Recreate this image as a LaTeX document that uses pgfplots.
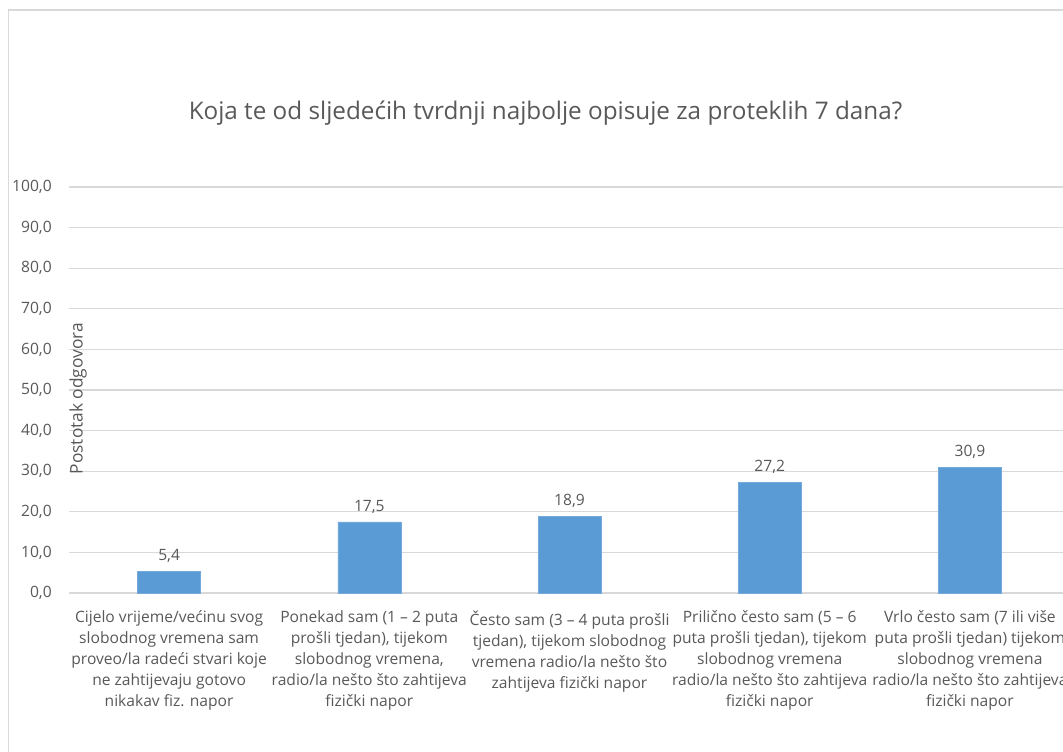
\documentclass[border=0pt]{standalone}
\usepackage{fontspec}
\setmainfont{Open Sans}
\usepackage{pgfplots}
\pgfplotsset{compat=1.18}
\hyphenpenalty=10000
\exhyphenpenalty=10000
\definecolor{barblue}{HTML}{5B9BD5}
\definecolor{gridgray}{HTML}{D9D9D9}
\definecolor{txtgray}{HTML}{595959}
\begin{document}
\begin{tikzpicture}
\useasboundingbox (0,0) rectangle (797.25pt,563.25pt);
\clip (0,0) rectangle (797.25pt,563.25pt);
\fill[white] (0,0) rectangle (797.25pt,563.25pt);
\draw[gridgray, line width=0.9pt] (6.4pt,-10pt) -- (6.4pt,555.75pt) -- (820pt,555.75pt);
\node[txtgray, font=\fontsize{18.2pt}{22pt}\selectfont] at (409.1pt,478.5pt) {Koja te od sljedećih tvrdnji najbolje opisuje za proteklih 7 dana?};
\begin{axis}[
  at={(51.75pt,118.5pt)}, anchor=south west,
  scale only axis, width=750.75pt, height=304.5pt,
  xmin=-0.5, xmax=4.5, ymin=0, ymax=100,
  ytick={0,10,...,100},
  xtick={0,1,2,3,4},
  xticklabels={
    {Cijelo vrijeme/većinu svog\\slobodnog vremena sam\\proveo/la radeći stvari koje\\ne zahtijevaju gotovo\\nikakav fiz. napor},
    {Ponekad sam (1 – 2 puta\\prošli tjedan), tijekom\\slobodnog vremena,\\radio/la nešto što zahtijeva\\fizički napor},
    {Često sam (3 – 4 puta prošli\\tjedan), tijekom slobodnog\\vremena radio/la nešto što\\zahtijeva fizički napor},
    {Prilično često sam (5 – 6\\puta prošli tjedan), tijekom\\slobodnog vremena\\radio/la nešto što zahtijeva\\fizički napor},
    {Vrlo često sam (7 ili više\\puta prošli tjedan) tijekom\\slobodnog vremena\\radio/la nešto što zahtijeva\\fizički napor}},
  xticklabel style={align=center, anchor=north, inner sep=0pt, yshift=-13pt,
    font=\fontsize{11.7pt}{15.75pt}\selectfont, text=txtgray},
  yticklabel style={anchor=east, inner sep=0pt, xshift=-12.75pt,
    font=\fontsize{11.7pt}{15.75pt}\selectfont, text=txtgray},
  /pgf/number format/assume math mode=true,
  yticklabel={\pgfmathprintnumber[fixed, fixed zerofill, precision=1, use comma]{\tick}},
  major tick length=0pt,
  ymajorgrids, grid style={gridgray, line width=0.9pt},
  axis line style={draw=none},
  ylabel={Postotak odgovora},
  ylabel style={at={(axis description cs:0.009,0.479)}, anchor=center, rotate=0,
    font=\fontsize{13pt}{15.75pt}\selectfont, text=txtgray},
  clip=false,
]
\draw[gridgray, line width=0.9pt] (axis cs:-0.5,0) -- (axis cs:4.5,0);
\addplot[ybar, bar width=47.25pt, fill=barblue, draw=barblue!85!white,
  nodes near coords={\pgfmathprintnumber[fixed, fixed zerofill, precision=1, use comma]{\pgfplotspointmeta}},
  nodes near coords style={font=\fontsize{11.7pt}{15.75pt}\selectfont, text=txtgray, yshift=3pt},
] coordinates {(0,5.4) (1,17.5) (2,18.9) (3,27.2) (4,30.9)};
\end{axis}
\end{tikzpicture}
\end{document}
